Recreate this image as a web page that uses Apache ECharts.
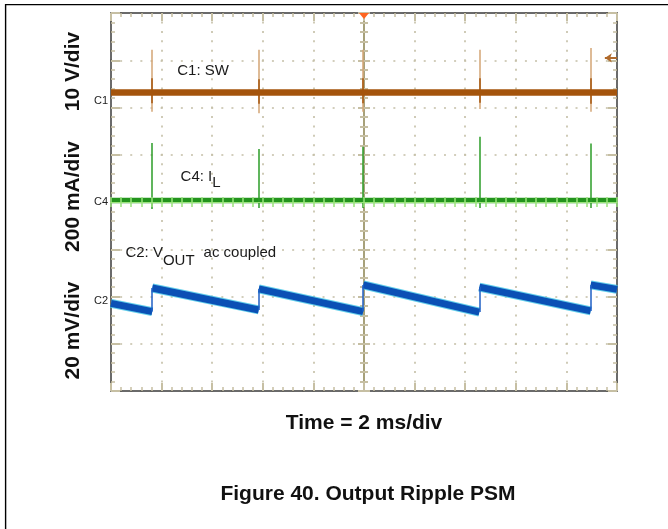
<!DOCTYPE html>
<html><head><meta charset="utf-8">
<script src="https://cdn.jsdelivr.net/npm/echarts@6/dist/echarts.min.js"></script>
<style>html,body{margin:0;padding:0;background:#fff}#c{width:668px;height:529px}</style>
</head><body><div id="c"></div>
<script>
// ---------------- data ----------------
const timeMinMs = -10, timeMaxMs = 10, timeStepMs = 2;      // 2 ms/div, trigger at 0
const divMin = -4, divMax = 4;                                 // 8 vertical divisions
const channelNames = ['C1', 'C4', 'C2'];
const channelOffsetsDiv = [2.14, 0, -2.1];                     // ground markers
const channelScales = [10, 200, 20];                           // V/div, mA/div, mV/div

// switching events (ms)
const eventTimesMs = [-8.37, -4.16, -0.03, 4.56, 8.96];

// C1: SW (V)
const swBaseV = 1.8;
const swSpikeHighV = [10.8, 10.8, 10.8, 10.8, 11.2];
const swSpikeLowV = [-2.3, -2.6, -2.3, -1.7, -2.3];
const swCoreHighV = [4.8, 4.6, 4.8, 4.8, 4.8];
const swCoreLowV = [-0.5, -0.6, -0.5, -0.4, -0.6];
const trigLevelV = 9.1;

// C4: IL (mA)
const ilBaseMa = 6;
const ilSpikePeakMa = [250, 224, 234, 276, 248];
const ilSpikeDipMa = [-30, -25, -25, -25, -25];

// C2: VOUT ac coupled (mV)
const voutTimesMs = [-10, -8.37, -8.37, -4.16, -4.16, -0.03, -0.03, 4.56, 4.56, 8.96, 8.96, 10];
const voutMv =      [-0.9, -4.4, 5.6, -3.7, 5.2, -4.4, 6.9, -4.6, 6.0, -4.1, 6.9, 5.0];

// ---------------- helpers ----------------
const toDiv = (ch, v) => channelOffsetsDiv[ch] + v / channelScales[ch];
const FONT = 'Liberation Sans, Arial, sans-serif';
const TAN = '#c6bfa3';

const swSpikes = eventTimesMs.map((t, i) => ({coords: [[t, toDiv(0, swSpikeHighV[i])], [t, toDiv(0, swSpikeLowV[i])]]}));
const swCores = eventTimesMs.map((t, i) => ({coords: [[t, toDiv(0, swCoreHighV[i])], [t, toDiv(0, swCoreLowV[i])]]}));
const ilSpikes = eventTimesMs.map((t, i) => ({coords: [[t, toDiv(1, ilSpikeDipMa[i])], [t, toDiv(1, ilSpikePeakMa[i])]]}));
const voutRamps = [], voutJumps = [];
for (let i = 0; i < voutTimesMs.length - 1; i++) {
  const seg = {coords: [[voutTimesMs[i], toDiv(2, voutMv[i])], [voutTimesMs[i + 1], toDiv(2, voutMv[i + 1])]]};
  (voutTimesMs[i] === voutTimesMs[i + 1] ? voutJumps : voutRamps).push(seg);
}

function xEdge(pos, extra) {
  return Object.assign({
    type: 'value', position: pos, min: timeMinMs, max: timeMaxMs, interval: timeStepMs,
    axisLine: {show: true, onZero: false, lineStyle: {color: '#3a3a3a', width: 1.5}},
    axisTick: {show: true, inside: true, length: 8, lineStyle: {color: TAN, width: 2}},
    minorTick: {show: true, splitNumber: 5, length: 4, lineStyle: {color: TAN, width: 1.5}},
    axisLabel: {show: false}, splitLine: {show: false}
  }, extra || {});
}
function yEdge(pos, extra) {
  return Object.assign({
    type: 'value', position: pos, min: divMin, max: divMax, interval: 1,
    axisLine: {show: true, onZero: false, lineStyle: {color: '#3a3a3a', width: 1.5}},
    axisTick: {show: true, inside: true, length: 9, lineStyle: {color: TAN, width: 2}},
    minorTick: {show: true, splitNumber: 5, length: 4, lineStyle: {color: TAN, width: 1.5}},
    axisLabel: {show: false}, splitLine: {show: false}
  }, extra || {});
}
function xCross(inside) {
  return {
    type: 'value', position: 'bottom', offset: -189, min: timeMinMs, max: timeMaxMs, interval: timeStepMs, z: 10,
    axisLine: {show: true, onZero: false, lineStyle: {color: '#9be47c', width: 1}},
    axisTick: {show: true, inside: inside, length: 5, lineStyle: {color: '#9be47c', width: 1.5}},
    minorTick: {show: true, splitNumber: 5, length: 5, lineStyle: {color: '#9be47c', width: 1.5}},
    axisLabel: {show: false}, splitLine: {show: false}
  };
}
function yCross(inside) {
  return {
    type: 'value', position: 'left', offset: -253, min: divMin, max: divMax, interval: 1,
    axisLine: {show: true, onZero: false, lineStyle: {color: '#a29b72', width: 1.5}},
    axisTick: {show: true, inside: inside, length: 6, lineStyle: {color: TAN, width: 2}},
    minorTick: {show: true, splitNumber: 5, length: 4, lineStyle: {color: TAN, width: 2}},
    axisLabel: {show: false}, splitLine: {show: false}
  };
}

const markLabel = (coord, text, rich) => ({
  coord: coord, symbol: 'circle', symbolSize: 1, itemStyle: {color: 'rgba(0,0,0,0)'},
  label: {show: true, position: 'right', distance: 0, formatter: text, rich: rich,
          fontFamily: FONT, fontSize: 15, color: '#1a1a1a'}
});
const subRich = (p) => ({
  n: {fontFamily: FONT, fontSize: 15, color: '#1a1a1a'},
  s: {fontFamily: FONT, fontSize: 15, color: '#1a1a1a', padding: [p, 0, 0, 0]},
  a: {fontFamily: FONT, fontSize: 15, color: '#1a1a1a', padding: [0, 0, 0, 9]}
});

const option = {
  animation: false,
  backgroundColor: '#ffffff',
  grid: {left: 111, top: 13, width: 506, height: 378, containLabel: false},
  xAxis: [
    xEdge('bottom', {splitLine: {show: true, lineStyle: {color: '#c4bea6', width: 1.6, type: [2, 7.45], dashOffset: 1}}}),
    xEdge('top'),
    xCross(false),
    xCross(true)
  ],
  yAxis: [
    yEdge('left', {
      splitLine: {show: true, lineStyle: {color: '#c4bea6', width: 1.6, type: [2, 8.12], dashOffset: 1}},
      axisLabel: {show: true, customValues: channelOffsetsDiv, margin: 3, fontFamily: FONT, fontSize: 11, color: '#222',
        formatter: (v) => { const i = channelOffsetsDiv.findIndex(o => Math.abs(o - v) < 1e-6); return i >= 0 ? channelNames[i] : ''; }}
    }),
    yEdge('right'),
    yCross(false),
    yCross(true)
  ],
  series: [
    // C1 SW
    {type: 'lines', coordinateSystem: 'cartesian2d', silent: true, z: 2, data: swSpikes,
     lineStyle: {color: '#d3a475', width: 1.5, opacity: 1}},
    {type: 'line', silent: true, z: 3, symbol: 'none', data: [[timeMinMs, toDiv(0, swBaseV)], [timeMaxMs, toDiv(0, swBaseV)]],
     lineStyle: {color: '#a4540c', width: 6.5, cap: 'butt'},
     markPoint: {silent: true, data: [
       {coord: [0, divMax], symbol: 'triangle', symbolRotate: 180, symbolSize: [10, 6], symbolOffset: [0, 3],
        itemStyle: {color: '#ff6420'}, label: {show: false}},
       markLabel([-7.40, 2.78], 'C1: SW')
     ]}},
    {type: 'lines', coordinateSystem: 'cartesian2d', silent: true, z: 4, data: swCores,
     lineStyle: {color: '#a4540c', width: 1.5, opacity: 1}},
    {type: 'lines', coordinateSystem: 'cartesian2d', silent: true, z: 4,
     data: [{coords: [[timeMaxMs, toDiv(0, trigLevelV)], [timeMaxMs - 0.48, toDiv(0, trigLevelV)]]}],
     symbol: ['none', 'arrow'], symbolSize: 7,
     lineStyle: {color: '#b06a2c', width: 2, opacity: 1}},
    // C4 IL
    {type: 'line', silent: true, z: 2, symbol: 'none', data: [[timeMinMs, toDiv(1, ilBaseMa)], [timeMaxMs, toDiv(1, ilBaseMa)]],
     lineStyle: {color: '#23941d', width: 5.5, cap: 'butt'},
     markPoint: {silent: true, data: [markLabel([-7.27, 0.53], '{n|C4: I}{s|L}', subRich(12))]}},
    {type: 'lines', coordinateSystem: 'cartesian2d', silent: true, z: 3, data: ilSpikes,
     lineStyle: {color: '#2b9c27', width: 1.5, opacity: 1}},
    // C2 VOUT
    {type: 'lines', coordinateSystem: 'cartesian2d', silent: true, z: 2, data: voutRamps,
     lineStyle: {color: '#46c6e6', width: 9, opacity: 0.85, cap: 'butt'},
     markPoint: {silent: true, data: [markLabel([-9.45, -1.08], '{n|C2: V}{s|OUT}{a|ac coupled}', subRich(16))]}},
    {type: 'lines', coordinateSystem: 'cartesian2d', silent: true, z: 3, data: voutRamps,
     lineStyle: {color: '#0b50b5', width: 7, opacity: 1, cap: 'butt'}},
    {type: 'lines', coordinateSystem: 'cartesian2d', silent: true, z: 3, data: voutJumps,
     lineStyle: {color: '#1f5fc4', width: 1.5, opacity: 1}}
  ],
  graphic: [
    {type: 'line', silent: true, shape: {x1: 5, y1: 4.6, x2: 668, y2: 4.6}, style: {stroke: '#000', lineWidth: 1.4}},
    {type: 'line', silent: true, shape: {x1: 5.6, y1: 4, x2: 5.6, y2: 529}, style: {stroke: '#000', lineWidth: 1.4}},
    {type: 'text', x: 73, y: 71.5, rotation: Math.PI / 2, style: {text: '10 V/div', font: 'bold 21px ' + FONT, fill: '#111', align: 'center', verticalAlign: 'middle'}},
    {type: 'text', x: 73, y: 196.5, rotation: Math.PI / 2, style: {text: '200 mA/div', font: 'bold 21px ' + FONT, fill: '#111', align: 'center', verticalAlign: 'middle'}},
    {type: 'text', x: 73, y: 330.5, rotation: Math.PI / 2, style: {text: '20 mV/div', font: 'bold 21px ' + FONT, fill: '#111', align: 'center', verticalAlign: 'middle'}},
    {type: 'text', x: 364, y: 423, style: {text: 'Time = 2 ms/div', font: 'bold 21px ' + FONT, fill: '#111', align: 'center', verticalAlign: 'middle'}},
    {type: 'text', x: 368, y: 494.5, style: {text: 'Figure 40. Output Ripple PSM', font: 'bold 21px ' + FONT, fill: '#111', align: 'center', verticalAlign: 'middle'}}
  ]
};
const chart = echarts.init(document.getElementById('c'), null, {renderer: 'canvas'});
chart.setOption(option);
</script></body></html>
